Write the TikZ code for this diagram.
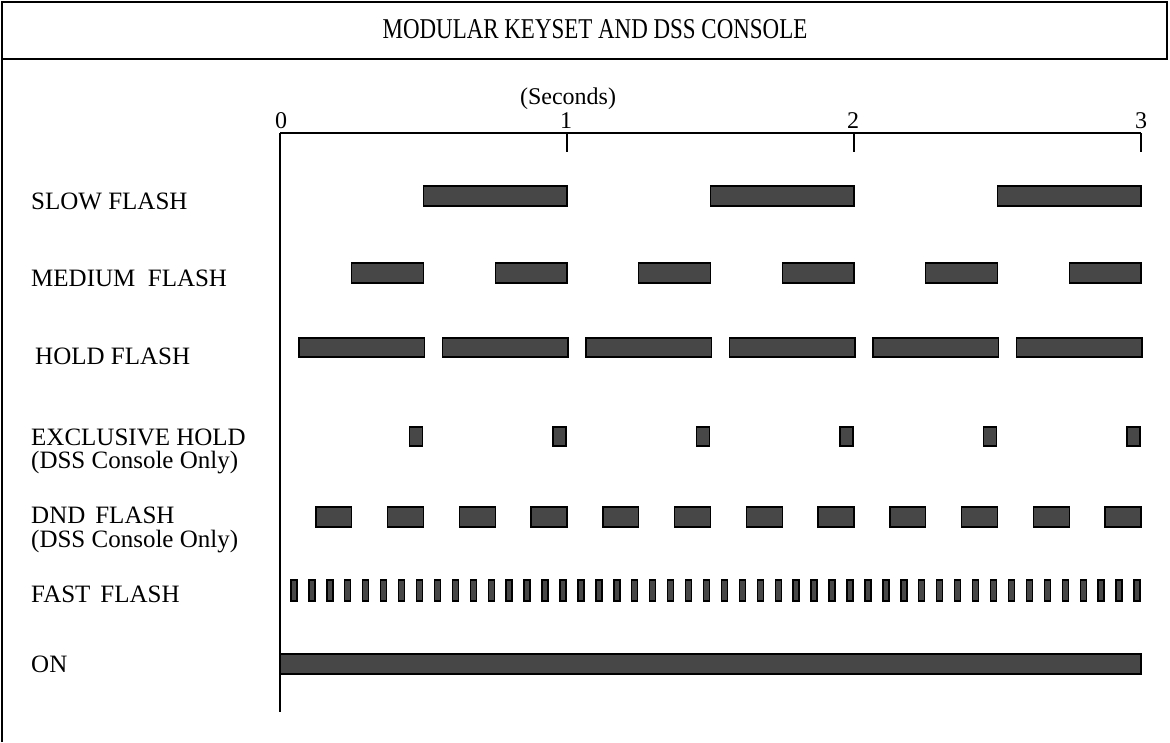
\documentclass[tikz,border=0pt]{standalone}
\usepackage{fontspec}
\setmainfont{Liberation Serif}
\begin{document}
\begin{tikzpicture}[x=1pt,y=-1pt,
  lab/.style={anchor=base west,inner sep=0pt,font=\fontsize{25}{28}\selectfont},
  num/.style={anchor=base,inner sep=0pt,font=\fontsize{24}{26}\selectfont},
  bar/.style={fill=black!72,draw=black,line width=1.4pt},
  frame/.style={line width=2.5pt},
  axis/.style={line width=1.3pt}]
\useasboundingbox (0,0) rectangle (1170,742);
% frame
\coordinate (fbl) at (2,742);
\coordinate (ftl) at (2,2);
\coordinate (ftr) at (1167,2);
\coordinate (fmr) at (1167,59);
\coordinate (fml) at (2,59);
\draw[frame] (fbl) -- (ftl) -- (ftr) -- (fmr) -- (fml);
\node[inner sep=0pt,anchor=base] (title) at (595,38)
  {\fontsize{28.7}{30}\selectfont\scalebox{0.8}[1]{MODULAR KEYSET AND DSS CONSOLE}};
% axis
\coordinate (t0) at (280,133);
\coordinate (t1) at (567,133);
\coordinate (t2) at (854,133);
\coordinate (t3) at (1141,133);
\coordinate (tb) at (280,712);
\draw[axis] (t0) -- (t3);
\draw[axis] (t0) -- (tb);
\draw[axis] (t1) -- ++(0,19);
\draw[axis] (t2) -- ++(0,19);
\draw[axis] (t3) -- ++(0,19);
\node[num] (n0) at (281,128) {0};
\node[num] (n1) at (566,128) {1};
\node[num] (n2) at (853,128) {2};
\node[num] (n3) at (1141,128) {3};
\node[num] (sec) at (568,104) {(Seconds)};
% labels
\node[lab] (l1) at (31,209) {SLOW FLASH};
\node[lab] (l2) at (31,286) {MEDIUM\hspace{0.5em}FLASH};
\node[lab] (l3) at (35,364) {HOLD FLASH};
\node[lab] (l4) at (31,445) {EXCLUSIVE HOLD};
\node[lab] (l4b) at (31,468) {(DSS Console Only)};
\node[lab] (l5) at (31,523) {DND\hspace{0.4em}FLASH};
\node[lab] (l5b) at (31,547) {(DSS Console Only)};
\node[lab] (l6) at (31,602) {FAST\hspace{0.4em}FLASH};
\node[lab] (l7) at (31,672) {ON};
% slow flash
\foreach \k in {0,1,2}
  \path[bar] ({280+287*(0.5+\k)},186) rectangle ({280+287*(1+\k)},206);
% medium flash
\foreach \k in {0,...,5}
  \path[bar] ({280+287*(0.25+0.5*\k)},263) rectangle ({280+287*(0.5+0.5*\k)},283);
% hold flash
\foreach \k in {0,...,5}
  \path[bar] ({281+287*(0.0625+0.5*\k)},338) rectangle ({281+287*(0.5+0.5*\k)},357);
% exclusive hold
\foreach \k in {1,...,6}
  \path[bar] ({280+287*0.5*\k-14},427) rectangle ({280+287*0.5*\k-1},446);
% dnd flash
\foreach \k in {0,...,11}
  \path[bar] ({280+287*(0.125+0.25*\k)},507) rectangle ({280+287*(0.25+0.25*\k)},527);
% fast flash
\foreach \k in {1,...,48}
  \path[bar] ({280+287*\k/16-7},580) rectangle ({280+287*\k/16-1},601);
% on
\path[bar] (280,654) rectangle (1141,674);
\end{tikzpicture}
\end{document}
